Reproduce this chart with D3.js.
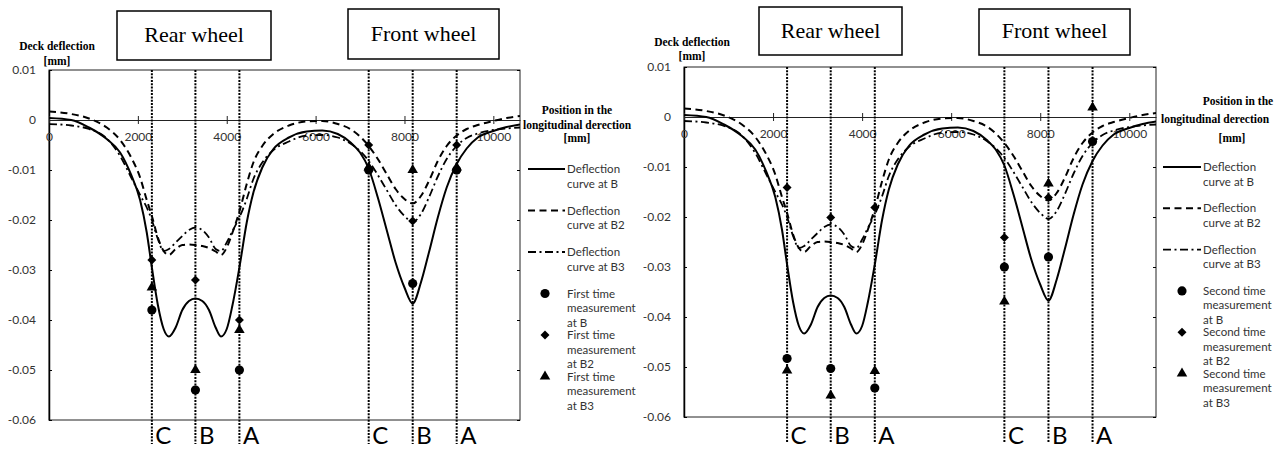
<!DOCTYPE html>
<html>
<head>
<meta charset="utf-8">
<script src="https://cdn.jsdelivr.net/npm/d3@7"></script>
<style>
  body { margin: 0; background: #fff; }
  svg { display: block; }
  .sans { font-family: Lato, "Open Sans", sans-serif; }
  .serif { font-family: "Liberation Serif", "DejaVu Serif", serif; }
</style>
</head>
<body>
<svg id="chart" width="1280" height="450"></svg>
<script>
// axis ticks
var xTicks = [0, 2000, 4000, 6000, 8000, 10000];
var yTicks = [0.01, 0, -0.01, -0.02, -0.03, -0.04, -0.05, -0.06];

// gauge positions under the wheels [mm]
var gaugeNames = ["C", "B", "A", "C", "B", "A"];
var gaugePos = [2315, 3295, 4285, 7195, 8185, 9175];

// calculated deflection curves [mm]
var curveX = [0, 500, 900, 1300, 1600, 1850, 2050, 2200, 2315, 2450, 2580, 2700, 2850, 3000, 3150, 3295,
  3450, 3600, 3750, 3870, 4000, 4130, 4285, 4450, 4600, 4800, 5050, 5400, 5800, 6150, 6500, 6800, 7000,
  7195, 7400, 7600, 7800, 8000, 8185, 8370, 8550, 8750, 8950, 9175, 9400, 9650, 10000, 10300, 10600];
var curveB = [0.0004, 0.0, -0.0015, -0.0038, -0.0065, -0.011, -0.016, -0.0225, -0.0295, -0.037, -0.0418,
  -0.0433, -0.0415, -0.038, -0.0362, -0.0357, -0.0362, -0.038, -0.0415, -0.0433, -0.0418, -0.037, -0.0295,
  -0.0205, -0.0145, -0.0095, -0.0058, -0.0035, -0.0023, -0.0021, -0.0028, -0.0046, -0.0065, -0.0097,
  -0.0155, -0.022, -0.0285, -0.0335, -0.0367, -0.0325, -0.0265, -0.0195, -0.0135, -0.0088, -0.0057,
  -0.0035, -0.0022, -0.0014, -0.0009];
var curveB2 = [0.0017, 0.0012, 0.0003, -0.0015, -0.004, -0.0075, -0.0115, -0.016, -0.0192, -0.0235, -0.0262,
  -0.027, -0.0258, -0.025, -0.0249, -0.025, -0.0252, -0.0256, -0.0263, -0.027, -0.0255, -0.0225, -0.0183,
  -0.0128, -0.0085, -0.0052, -0.0028, -0.0011, -0.0003, -0.0002, -0.0008, -0.0019, -0.0033, -0.0052,
  -0.0078, -0.0108, -0.0138, -0.0158, -0.0167, -0.0152, -0.0122, -0.0082, -0.0052, -0.0031, -0.0018,
  -0.001, -0.0002, 0.0004, 0.0008];
var curveB3 = [-0.0008, -0.0011, -0.0018, -0.0037, -0.0072, -0.0115, -0.015, -0.0175, -0.02, -0.0238, -0.0262,
  -0.0258, -0.0245, -0.0232, -0.022, -0.0215, -0.022, -0.0235, -0.0258, -0.0262, -0.0245, -0.0222, -0.0195,
  -0.0158, -0.0118, -0.0085, -0.006, -0.0043, -0.0031, -0.003, -0.0035, -0.0048, -0.0062, -0.0082,
  -0.011, -0.014, -0.017, -0.0192, -0.0204, -0.0188, -0.0155, -0.0113, -0.0078, -0.0052, -0.0036,
  -0.0027, -0.002, -0.0017, -0.0015];

// measured deflections at the gauges [mm]
var firstB = [-0.038, -0.054, -0.050, -0.010, -0.0327, -0.010];
var firstB2 = [-0.028, -0.032, -0.040, -0.005, -0.0202, -0.005];
var firstB3 = [-0.0335, -0.050, -0.042, -0.0095, -0.010, -0.0095];
var secondB = [-0.0483, -0.0503, -0.0542, -0.030, -0.028, -0.0049];
var secondB2 = [-0.0141, -0.0201, -0.0181, -0.0241, -0.0161, -0.0049];
var secondB3 = [-0.0507, -0.0557, -0.0508, -0.0369, -0.0133, 0.0019];

var curveNames = ["curve at B", "curve at B2", "curve at B3"];
var measNames = ["at B", "at B2", "at B3"];

var panels = [
  {
    left: 49, right: 520, top: 70, bottom: 420, run: "First time", meas: [firstB, firstB2, firstB3],
    boxes: [{ x: 117, y: 11, w: 154, h: 49, label: "Rear wheel", ty: 42 },
            { x: 348, y: 9, w: 151, h: 50, label: "Front wheel", ty: 41 }],
    yTitle: { x: 57, y: [49.5, 64.5] },
    xTitle: [[577, 114], [577, 129], [577, 141.5]],
    legend: { lineX: 528, symX: 545, textX: 567, y0: 169, step: 41.5 },
    gaugeEnd: 444, letterY: 443.5
  },
  {
    left: 684, right: 1156, top: 67, bottom: 417, run: "Second time", meas: [secondB, secondB2, secondB3],
    boxes: [{ x: 759, y: 7, w: 143, h: 48, label: "Rear wheel", ty: 38 },
            { x: 979, y: 9, w: 151, h: 46, label: "Front wheel", ty: 38 }],
    yTitle: { x: 692, y: [46, 59.5] },
    xTitle: [[1238, 105], [1215, 123], [1232, 141.5]],
    legend: { lineX: 1163, symX: 1182, textX: 1203, y0: 167, step: 41.3 },
    gaugeEnd: 443, letterY: 443.5
  }
];

var svg = d3.select("#chart");
var lineStyles = [
  { width: 2, dash: null },
  { width: 2, dash: "7,4.5" },
  { width: 1.8, dash: "8,3.5,2,3.5" }
];
var symbols = [
  d3.symbol(d3.symbolCircle, 66)(),
  d3.symbol(d3.symbolSquare, 40)(),
  d3.symbol(d3.symbolTriangle, 48)()
];
var symRot = [0, 45, 0];

panels.forEach(function(p, pi) {
  var g = svg.append("g");
  var x = d3.scaleLinear().domain([0, 10600]).range([p.left, p.right]);
  var y = d3.scaleLinear().domain([-0.06, 0.01]).range([p.bottom, p.top]);

  // titles in boxes
  p.boxes.forEach(function(b) {
    g.append("rect").attr("x", b.x).attr("y", b.y).attr("width", b.w).attr("height", b.h)
      .attr("fill", "#fff").attr("stroke", "#000").attr("stroke-width", 1.5);
    g.append("text").attr("class", "serif").attr("x", b.x + b.w / 2).attr("y", b.ty)
      .attr("text-anchor", "middle").attr("font-size", 22).text(b.label);
  });

  // axis titles
  ["Deck deflection", "[mm]"].forEach(function(t, i) {
    g.append("text").attr("class", "serif").attr("x", p.yTitle.x).attr("y", p.yTitle.y[i])
      .attr("text-anchor", "middle").attr("font-size", 11.5).attr("font-weight", "bold").text(t);
  });
  ["Position in the", "longitudinal derection", "[mm]"].forEach(function(t, i) {
    g.append("text").attr("class", "serif").attr("x", p.xTitle[i][0]).attr("y", p.xTitle[i][1])
      .attr("text-anchor", "middle").attr("font-size", 11.5).attr("font-weight", "bold").text(t);
  });

  // plot frame
  g.append("rect").attr("x", p.left).attr("y", p.top)
    .attr("width", p.right - p.left).attr("height", p.bottom - p.top)
    .attr("fill", "none").attr("stroke", "#222").attr("stroke-width", 1);

  // y axis, ticks pointing inside
  var ya = g.append("g").attr("transform", "translate(" + p.left + ",0)")
    .call(d3.axisLeft(y).tickValues(yTicks).tickFormat(function(d) { return String(d); })
      .tickSizeInner(-3).tickSizeOuter(0).tickPadding(13));
  ya.select(".domain").attr("stroke", "#000").attr("stroke-width", 1.5);
  ya.selectAll("text").attr("class", "sans").attr("font-size", 12).attr("fill", "#333");

  g.append("g").attr("transform", "translate(" + p.right + ",0)")
    .call(d3.axisRight(y).tickValues(yTicks).tickFormat("").tickSizeInner(-3).tickSizeOuter(0))
    .select(".domain").remove();

  // x axis on the zero line
  var xa = g.append("g").attr("transform", "translate(0," + y(0) + ")")
    .call(d3.axisBottom(x).tickValues(xTicks).tickFormat(d3.format("d"))
      .tickSizeInner(4).tickSizeOuter(0).tickPadding(8));
  xa.select(".domain").attr("stroke", "#222");
  xa.selectAll(".tick line").attr("y1", -4).attr("y2", 4).attr("stroke", "#222");
  xa.selectAll("text").attr("class", "sans").attr("font-size", 12).attr("fill", "#333");

  // gauge lines and letters
  g.selectAll(".gauge").data(gaugePos).enter().append("line")
    .attr("x1", function(d) { return x(d); }).attr("x2", function(d) { return x(d); })
    .attr("y1", p.top).attr("y2", p.gaugeEnd)
    .attr("stroke", "#000").attr("stroke-width", 2).attr("stroke-dasharray", "2,1.3");
  g.selectAll(".letter").data(gaugePos).enter().append("text").attr("class", "sans")
    .attr("x", function(d) { return x(d) + 3.5; }).attr("y", p.letterY)
    .attr("font-size", 24).text(function(d, i) { return gaugeNames[i]; });

  // curves
  var clipId = "clip" + pi;
  g.append("clipPath").attr("id", clipId).append("rect")
    .attr("x", p.left).attr("y", p.top).attr("width", p.right - p.left).attr("height", p.bottom - p.top);
  var line = d3.line().curve(d3.curveMonotoneX)
    .x(function(d, i) { return x(curveX[i]); }).y(function(d) { return y(d); });
  [curveB, curveB2, curveB3].forEach(function(c, ci) {
    g.append("path").attr("clip-path", "url(#" + clipId + ")").attr("d", line(c))
      .attr("fill", "none").attr("stroke", "#000")
      .attr("stroke-width", lineStyles[ci].width).attr("stroke-dasharray", lineStyles[ci].dash);
  });

  // measured points
  [2, 1, 0].forEach(function(si) {
    g.selectAll(".m" + si).data(p.meas[si]).enter().append("path")
      .attr("d", symbols[si]).attr("fill", "#000")
      .attr("transform", function(d, i) {
        return "translate(" + x(gaugePos[i]) + "," + y(d) + ") rotate(" + symRot[si] + ")";
      });
  });

  // legend
  var L = p.legend;
  curveNames.forEach(function(name, i) {
    var yy = L.y0 + i * L.step;
    g.append("line").attr("x1", L.lineX).attr("x2", L.textX - 2).attr("y1", yy).attr("y2", yy)
      .attr("stroke", "#000").attr("stroke-width", lineStyles[i].width)
      .attr("stroke-dasharray", lineStyles[i].dash);
    ["Deflection", name].forEach(function(t, k) {
      g.append("text").attr("class", "sans").attr("x", L.textX).attr("y", yy + 4 + k * 14.5)
        .attr("font-size", 11.5).attr("fill", "#333").text(t);
    });
  });
  measNames.forEach(function(name, i) {
    var yy = L.y0 + (i + 3) * L.step;
    g.append("path").attr("d", symbols[i]).attr("fill", "#000")
      .attr("transform", "translate(" + L.symX + "," + yy + ") rotate(" + symRot[i] + ")");
    [p.run, "measurement", name].forEach(function(t, k) {
      g.append("text").attr("class", "sans").attr("x", L.textX).attr("y", yy + 4 + k * 14.5)
        .attr("font-size", 11.5).attr("fill", "#333").text(t);
    });
  });
});
</script>
</body>
</html>
